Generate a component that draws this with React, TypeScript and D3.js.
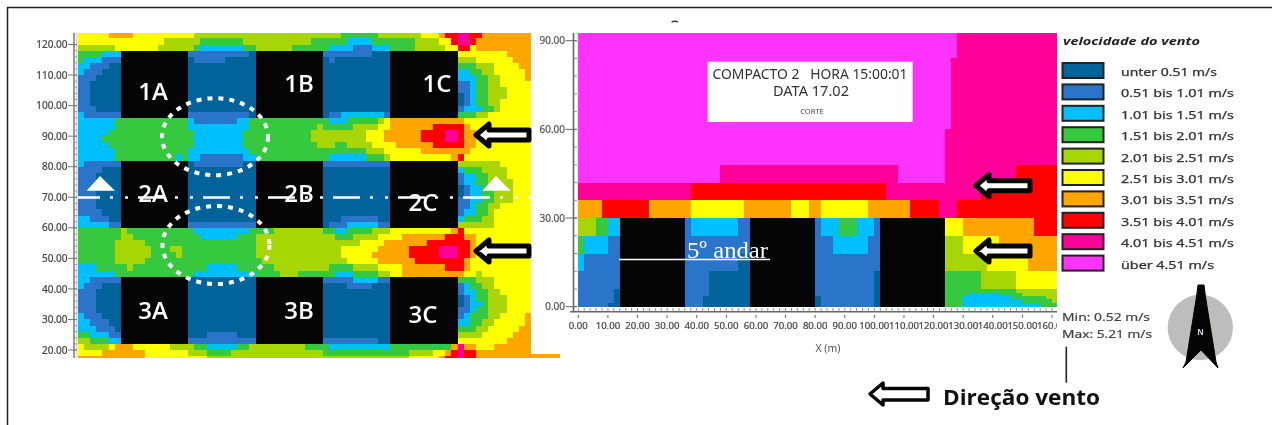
import React from "react";
import * as d3 from "d3";

const levelColors = ["#02639b", "#2a74c9", "#00bfff", "#36c940", "#a8d504", "#ffff00", "#ffa500", "#ff0000", "#ff0099", "#ff33ff"];
const legendLabels = ["unter 0.51 m/s", "0.51 bis 1.01 m/s", "1.01 bis 1.51 m/s", "1.51 bis 2.01 m/s", "2.01 bis 2.51 m/s", "2.51 bis 3.01 m/s", "3.01 bis 3.51 m/s", "3.51 bis 4.01 m/s", "4.01 bis 4.51 m/s", "über 4.51 m/s"];

// Plan view: 2 m cells, one string per row from y=124 downward, "startColumn=level"
const planRows = [
  "0=5 5=6 9=5 19=4 43=3 49=4 56=5 59=6 60=7 62=8 64=7 66=6",
  "0=5 14=4 20=3 27=4 38=3 44=2 48=3 55=4 59=5 61=7 62=8 64=7 65=6",
  "0=4 6=5 13=4 19=3 20=2 27=3 29=4 35=3 41=2 45=1 48=2 51=3 55=4 60=5 62=7 64=5 65=6",
  "0=3 4=2 18=1 28=0 40=1 48=0 62=5 70=6",
  "0=3 1=2 4=1 18=0 19=1 24=0 41=1 42=0 62=4 65=5 71=6",
  "0=2 2=1 5=0 62=3 65=4 68=5 72=6",
  "0=2 1=1 4=0 62=2 64=3 66=4 68=5 73=6",
  "0=1 3=0 62=2 65=3 67=4 69=5 73=6",
  "0=1 2=0 62=1 64=2 65=3 67=4 69=5",
  "0=1 2=0 62=1 64=2 65=3 67=4 70=5",
  "0=1 2=0 63=1 64=2 65=3 67=4 70=5",
  "0=1 2=0 63=1 64=2 65=3 67=4 69=5",
  "0=1 3=0 62=1 63=2 66=3 68=4 69=5",
  "0=2 1=1 28=0 41=1 43=2 50=1 51=0 62=3 65=4 67=5",
  "0=2 6=3 18=2 19=1 26=2 28=3 41=2 44=3 49=4 50=5 51=6 63=5",
  "0=2 6=3 18=2 28=3 39=4 40=3 45=4 49=5 51=6 58=7 63=6 64=5",
  "0=2 5=3 19=2 27=3 38=4 47=5 50=6 56=7 60=8 62=7 63=6 65=5",
  "0=2 4=3 19=2 27=3 38=4 47=5 50=6 56=7 60=8 62=7 63=6 65=5",
  "0=2 5=3 19=2 27=3 39=4 42=3 44=4 48=5 52=6 58=7 63=6 65=5",
  "0=2 6=3 18=2 28=3 47=4 50=5 56=6 64=5",
  "0=2 6=3 16=2 17=3 18=2 20=1 27=2 29=3 41=2 47=3 50=4 51=5 61=6 62=7 63=5",
  "0=2 1=1 7=0 19=1 27=0 40=1 51=0 62=4 69=5",
  "0=1 4=0 62=2 63=3 66=4 70=5",
  "0=1 3=0 62=1 63=2 65=3 67=4 70=5",
  "0=1 3=0 62=1 63=2 65=3 67=4 71=5",
  "0=1 3=0 63=1 64=2 66=3 68=4 71=5",
  "0=1 3=0 63=1 64=2 66=3 68=4 71=5",
  "0=1 3=0 62=1 64=2 66=3 68=4 71=5",
  "0=1 3=0 62=1 64=2 65=3 67=4 69=5",
  "0=1 4=0 62=1 63=2 65=3 67=4 68=5",
  "0=2 2=1 5=0 43=1 49=0 62=2 63=3 66=4 68=5",
  "0=2 5=1 7=0 18=1 29=0 41=1 44=2 49=1 51=0 62=4 68=5",
  "0=3 7=4 8=3 19=2 28=3 32=4 40=3 42=2 44=3 48=4 51=5 61=6 62=7 63=5",
  "0=3 7=4 9=3 20=2 26=3 29=4 42=3 45=4 49=5 53=6 60=7 63=6 65=5",
  "0=3 6=4 11=3 29=4 46=5 50=6 57=7 64=6 65=5",
  "0=3 6=4 12=3 15=4 17=3 29=4 43=5 49=6 54=7 59=8 62=7 64=6 65=5",
  "0=3 6=4 12=3 16=4 17=3 29=4 43=5 48=6 54=7 59=8 62=7 64=6 65=5",
  "0=3 6=4 11=3 30=4 44=5 49=6 55=7 63=6 64=5",
  "0=2 3=3 8=4 9=3 21=2 26=3 32=4 41=3 45=4 49=5 53=6 60=7 63=6 64=5",
  "0=2 6=3 19=2 29=3 33=4 36=3 42=2 45=3 49=4 51=5 53=6 63=5 65=4 66=5",
  "0=2 2=1 7=0 40=1 45=2 49=1 51=0 62=3 65=4 68=5",
  "0=2 1=1 4=0 44=1 48=0 62=1 63=2 64=3 66=4 68=5",
  "0=1 3=0 62=1 63=2 65=3 67=4 69=5",
  "0=1 3=0 63=1 64=2 65=3 67=4 70=5",
  "0=1 3=0 63=1 64=2 66=3 67=4 70=5",
  "0=1 3=0 62=1 64=2 65=3 67=4 70=5",
  "0=2 1=1 4=0 62=1 63=2 64=3 67=4 69=5 73=6",
  "0=2 2=1 5=0 62=2 64=3 66=4 68=5 73=6",
  "0=2 3=1 6=0 62=3 65=4 67=5 72=6",
  "0=3 2=2 5=1 7=0 21=1 26=0 62=4 66=5 71=6",
  "0=4 2=3 5=2 7=0 18=1 29=0 40=1 49=0 62=5 70=6",
  "0=5 1=4 5=5 6=6 9=5 15=4 19=3 21=2 26=3 28=4 37=3 41=2 51=3 61=6 62=8 63=6 65=5 68=6",
  "0=5 4=6 11=5 18=4 21=3 25=4 40=3 54=4 58=5 60=6 61=7 62=8 63=7 65=6",
  "0=6 11=5 21=4 54=5 59=6 60=7 62=8 63=7 65=6",
];
const planBlockX = [14, 58, 102];
const planBlockY = [96, 60, 22];
const planBlockLabels = ["1A", "1B", "1C", "2A", "2B", "2C", "3A", "3B", "3C"];
const planYTicks = [20, 30, 40, 50, 60, 70, 80, 90, 100, 110, 120];

// Section view: bands [yBottom, yTop, "startX=level ..."]
const sectionBands: [number, number, string][] = [
  [84, 93, "0=9 128=8"],
  [60, 84, "0=9 126=8"],
  [48, 60, "0=9 124=8"],
  [42, 48, "0=9 48=8 108=9 124=8 148=7"],
  [36, 42, "0=8 38=7 104=8 136=7"],
  [30, 36, "0=6 8=7 24=6 38=5 56=6 72=5 78=6 82=5 98=6 112=7 122=8 128=7"],
  [24, 30, "0=4 6=3 10=2 36=1 38=2 54=1 80=1 82=2 88=3 94=2 100=1 124=5 130=6 154=7"],
  [18, 24, "0=3 2=2 10=1 86=2 98=1 124=4 130=5 142=6"],
  [12, 18, "0=2 2=1 54=0 58=1 124=4 138=5 152=6"],
  [6, 12, "0=1 44=0 58=1 100=0 124=3 136=4 148=5"],
  [4.7, 6, "0=1 12=0 36=1 44=0 58=1 100=0 124=3 148=4"],
  [3.6, 4.7, "0=1 12=0 36=1 44=0 58=1 100=0 124=3 132=2 142=3 150=4"],
  [2.5, 3.6, "0=1 12=0 36=1 42=0 58=1 80=0 82=1 100=0 124=3 130=2 146=3 158=4"],
  [1.4, 2.5, "0=1 12=0 36=1 42=0 58=1 80=0 82=1 100=0 124=3 130=2 150=3 160=4"],
  [0, 1.4, "0=1 10=0 36=1 42=0 58=1 80=0 82=1 100=0 124=3 130=2 156=3"],
];
const sectionBlockX = [14, 58, 102];
const sectionXTicks = d3.range(0, 170, 10);
const sectionYTicks = [0, 30, 60, 90];

const parseRuns = (s: string, end: number) => {
  const pairs = s.split(" ").map((p) => p.split("=").map(Number));
  return pairs.map(([start, level], i) => ({ start, level, end: i + 1 < pairs.length ? pairs[i + 1][0] : end }));
};

const W = 1272, H = 425;
const px = d3.scaleLinear().domain([0, 148]).range([78, 531]);
const py = d3.scaleLinear().domain([20, 120]).range([350, 44.5]);
const sx = d3.scaleLinear().domain([0, 160]).range([578.3, 1052]);
const sy = d3.scaleLinear().domain([0, 90]).range([306.7, 40.7]);
const R = Math.round;
const AXIS_FONT = "'Noto Sans', sans-serif";

const Arrow = ({ tip, cy, end, k = 1 }: { tip: number; cy: number; end: number; k?: number }) => {
  const hb = tip + 13;
  const pts = [[tip, cy], [hb, cy - 11 * k], [hb, cy - 5 * k], [end, cy - 5 * k], [end, cy + 5 * k], [hb, cy + 5 * k], [hb, cy + 11 * k]];
  return <polygon points={pts.map((p) => p.join(",")).join(" ")} fill="#fff" stroke="#050505" strokeWidth={5} strokeLinejoin="round" />;
};

export default function App() {
  return (
    <svg width={W} height={H} viewBox={`0 0 ${W} ${H}`} style={{ position: "absolute", left: 0, top: 0, background: "#fff", filter: "blur(0.45px)" }}>
      <defs>
        <clipPath id="planClip"><rect x={78} y={33} width={453} height={325} /></clipPath>
        <clipPath id="secClip"><rect x={578} y={33} width={479} height={274} /></clipPath>
        <clipPath id="xLabelClip"><rect x={560} y={315} width={497} height={20} /></clipPath>
      </defs>

      {/* frame */}
      <line x1={7.5} y1={7.5} x2={7.5} y2={H} stroke="#222" strokeWidth={1.5} />
      <line x1={7} y1={7.5} x2={W} y2={7.5} stroke="#222" strokeWidth={1.5} />

      {/* plan map */}
      <g clipPath="url(#planClip)" shapeRendering="crispEdges">
        {planRows.map((row, r) =>
          parseRuns(row, 75).map((run, i) => (
            <rect key={`${r}-${i}`} x={R(px(run.start * 2))} width={R(px(run.end * 2)) - R(px(run.start * 2))}
              y={R(py(124 - 2 * r))} height={R(py(122 - 2 * r)) - R(py(124 - 2 * r))} fill={levelColors[run.level]} />
          ))
        )}
        {planBlockY.map((by) => planBlockX.map((bx) => (
          <rect key={`${bx}-${by}`} x={px(bx)} width={px(bx + 22) - px(bx)} y={py(by + 22)} height={py(by) - py(by + 22)} fill="#050505" />
        )))}
      </g>
      <rect x={531} y={354} width={29} height={4} fill={levelColors[6]} />

      {/* plan axis */}
      <line x1={74} y1={33} x2={74} y2={358} stroke="#999" strokeWidth={2} />
      <line x1={76.8} y1={33} x2={76.8} y2={358} stroke="#c4c4c4" strokeWidth={1} />
      {d3.range(20, 122, 2).map((v) => (
        <line key={v} x1={74} x2={77} y1={py(v)} y2={py(v)} stroke="#888" strokeWidth={0.8} />
      ))}
      {planYTicks.map((v) => (
        <g key={v}>
          <line x1={68} x2={77} y1={py(v)} y2={py(v)} stroke="#777" strokeWidth={1} />
          <text x={67.5} y={py(v) + 3.6} textAnchor="end" fontFamily={AXIS_FONT} fontSize={10} fill="#444" stroke="#444" strokeWidth={0.2}>{v.toFixed(2)}</text>
        </g>
      ))}

      {/* plan labels */}
      {[[153, 91], [299, 83], [437, 83], [153, 193], [299, 193], [423, 202], [153, 310], [299, 310], [423, 314]].map(([x, y], i) => (
        <text key={i} x={x} y={y + 8.6} textAnchor="middle" fontFamily="'Open Sans', sans-serif" fontWeight={600} fontSize={24} fill="#fff">{planBlockLabels[i]}</text>
      ))}

      {/* plan overlays */}
      <ellipse cx={215} cy={136.7} rx={53} ry={38.5} fill="none" stroke="#fff" strokeWidth={4} strokeDasharray="5 6" />
      <ellipse cx={216} cy={245} rx={53.5} ry={39} fill="none" stroke="#fff" strokeWidth={4} strokeDasharray="5 6" />
      <line x1={78} x2={531} y1={197.5} y2={197.5} stroke="#fff" strokeWidth={2.5} strokeDasharray="27 10 3 12 3 10" strokeDashoffset={5} />
      <polygon points="100,176 86.7,190.7 115,190.7" fill="#fff" />
      <polygon points="496,176 482.3,190.7 510.7,190.7" fill="#fff" />
      <Arrow tip={476} cy={135} end={529} />
      <Arrow tip={476} cy={251} end={529} />

      {/* section map */}
      <g clipPath="url(#secClip)" shapeRendering="crispEdges">
        {sectionBands.map(([y0, y1, s], b) =>
          parseRuns(s, 164).map((run, i) => (
            <rect key={`${b}-${i}`} x={R(sx(run.start))} width={R(sx(run.end)) - R(sx(run.start))}
              y={R(sy(y1))} height={R(sy(y0)) - R(sy(y1))} fill={levelColors[run.level]} />
          ))
        )}
        {sectionBlockX.map((bx) => (
          <rect key={bx} x={sx(bx)} width={sx(bx + 22) - sx(bx)} y={sy(30)} height={sy(0) - sy(30)} fill="#050505" />
        ))}
      </g>

      {/* section axes */}
      <line x1={573.5} y1={33} x2={573.5} y2={312} stroke="#666" strokeWidth={1.6} />
      <line x1={570} y1={311.7} x2={1057} y2={311.7} stroke="#666" strokeWidth={1.4} />
      {d3.range(0, 92, 6).map((v) => (
        <line key={v} x1={573} x2={577} y1={sy(v)} y2={sy(v)} stroke="#777" strokeWidth={0.8} />
      ))}
      {sectionYTicks.map((v) => (
        <g key={v}>
          <line x1={565.5} x2={577} y1={sy(v)} y2={sy(v)} stroke="#666" strokeWidth={1} />
          <text x={565} y={sy(v) + 3.6} textAnchor="end" fontFamily={AXIS_FONT} fontSize={10} fill="#555" stroke="#555" strokeWidth={0.2}>{v.toFixed(2)}</text>
        </g>
      ))}
      {d3.range(0, 162, 2).map((v) => (
        <line key={v} x1={sx(v)} x2={sx(v)} y1={308} y2={312} stroke="#777" strokeWidth={0.8} />
      ))}
      <g clipPath="url(#xLabelClip)">
        {sectionXTicks.map((v) => (
          <g key={v}>
            <line x1={sx(v)} x2={sx(v)} y1={306} y2={318} stroke="#666" strokeWidth={1} />
            <text x={sx(v)} y={329} textAnchor="middle" fontFamily={AXIS_FONT} fontSize={9.6} fill="#444" stroke="#444" strokeWidth={0.2}>{v.toFixed(2)}</text>
          </g>
        ))}
      </g>
      <text x={828} y={352} textAnchor="middle" fontFamily={AXIS_FONT} fontSize={10.5} fill="#555">X (m)</text>

      {/* section overlays */}
      <rect x={707.7} y={61.7} width={205} height={60.3} fill="#fff" />
      <text x={810} y={79} textAnchor="middle" fontFamily={AXIS_FONT} fontSize={13.5} fill="#333" textLength={195} lengthAdjust="spacingAndGlyphs" xmlSpace="preserve">COMPACTO 2   HORA 15:00:01</text>
      <text x={811} y={96} textAnchor="middle" fontFamily={AXIS_FONT} fontSize={13.5} fill="#333" textLength={76} lengthAdjust="spacingAndGlyphs">DATA 17.02</text>
      <text x={812} y={114} textAnchor="middle" fontFamily={AXIS_FONT} fontSize={7.5} fill="#444">CORTE</text>
      <path d="M671.5,22 Q675,20.5 678,22" fill="none" stroke="#333" strokeWidth={1.3} />
      <text x={687} y={258} fontFamily="'Liberation Serif', serif" fontSize={24} fill="#fff" textLength={81} lengthAdjust="spacingAndGlyphs">5º andar</text>
      <line x1={619} x2={770} y1={259.5} y2={259.5} stroke="#fff" strokeWidth={1.6} />
      <Arrow tip={976} cy={185.7} end={1030} />
      <Arrow tip={976} cy={251} end={1030} />

      {/* legend */}
      <text x={1063} y={44.5} fontFamily={AXIS_FONT} fontStyle="italic" fontWeight={700} fontSize={11} fill="#222" textLength={137} lengthAdjust="spacingAndGlyphs">velocidade do vento</text>
      {legendLabels.map((t, i) => {
        const y = 63 + i * 21.4;
        return (
          <g key={t}>
            <rect x={1062.5} y={y} width={41} height={15} fill={levelColors[i]} stroke="#222" strokeWidth={2} />
            <text x={1121} y={y + 13} fontFamily={AXIS_FONT} fontSize={10.5} fill="#333" stroke="#333" strokeWidth={0.25}
              textLength={i === 0 ? 96 : i === 9 ? 93 : 113} lengthAdjust="spacingAndGlyphs">{t}</text>
          </g>
        );
      })}

      <text x={1062} y={320.5} fontFamily={AXIS_FONT} fontSize={10.5} fill="#444" stroke="#444" strokeWidth={0.2} textLength={88} lengthAdjust="spacingAndGlyphs">Min: 0.52 m/s</text>
      <text x={1062} y={337.5} fontFamily={AXIS_FONT} fontSize={10.5} fill="#444" stroke="#444" strokeWidth={0.2} textLength={90} lengthAdjust="spacingAndGlyphs">Max: 5.21 m/s</text>
      <line x1={1066.3} x2={1066.3} y1={346.7} y2={382.7} stroke="#222" strokeWidth={1.6} />

      {/* direction key */}
      <polygon points="870,394 883,383 883,388.5 928,388.5 928,400 883,400 883,405" fill="#fff" stroke="#050505" strokeWidth={3.5} strokeLinejoin="round" />
      <text x={943} y={405} fontFamily="'Open Sans', sans-serif" fontWeight={700} fontSize={21} fill="#111" textLength={157} lengthAdjust="spacingAndGlyphs">Direção vento</text>

      {/* north arrow */}
      <circle cx={1200.3} cy={327.5} r={32.7} fill="#bdbdbd" />
      <polygon points="1198,285 1204,285 1205.5,297 1216,362 1218,368 1201,350 1183,368 1186,362 1196.5,297" fill="#050505" stroke="#050505" strokeWidth={1} strokeLinejoin="round" />
      <text x={1200.5} y={335} textAnchor="middle" fontFamily={AXIS_FONT} fontWeight={700} fontSize={8} fill="#cfd8e0">N</text>
    </svg>
  );
}
